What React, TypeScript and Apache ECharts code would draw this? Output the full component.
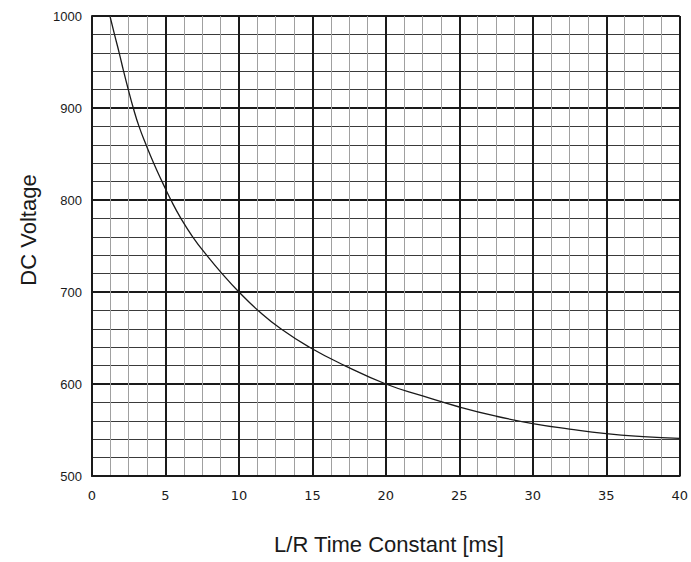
import React, { useEffect, useRef } from "react";
import * as echarts from "echarts";

const timeConstantMs = [1.22, 1.53, 1.85, 2.15, 2.47, 2.81, 3.2, 3.68, 4.2, 4.77, 5.37, 6.05, 6.85, 7.8, 8.85, 10.0, 11.3, 12.85, 14.8, 17.2, 20, 22.5, 25, 27.5, 30, 32.5, 35, 37.5, 40];
const dcVoltage = [1000, 980, 960, 940, 920, 900, 880, 860, 840, 820, 800, 780, 760, 740, 720, 700, 680, 660, 640, 620, 600, 587, 575, 565, 557, 551, 546, 542.8, 540.8];

const xTitle = "L/R Time Constant [ms]";
const yTitle = "DC Voltage";

export default function App() {
  const ref = useRef<HTMLDivElement>(null);
  useEffect(() => {
    document.body.style.margin = "0";
    const chart = echarts.init(ref.current!, null, { renderer: "svg" });
    const data = timeConstantMs.map((x, i) => [x, dcVoltage[i]]);
    chart.setOption({
      animation: false,
      backgroundColor: "#ffffff",
      grid: { left: 92, right: 11, top: 16, bottom: 86, containLabel: false },
      xAxis: [
        {
          type: "value",
          min: 0,
          max: 40,
          interval: 5,
          axisLine: { show: true, lineStyle: { color: "#1a1a1a", width: 2 } },
          axisTick: { show: false },
          axisLabel: { color: "#1a1a1a", fontFamily: "DejaVu Sans", fontSize: 13, margin: 13 },
          splitLine: { show: true, lineStyle: { color: "#1a1a1a", width: 2 } },
          minorTick: { show: false, splitNumber: 4 },
          minorSplitLine: { show: true, lineStyle: { color: "#a0a0a0", width: 1 } },
          z: 3,
        },
        {
          type: "value",
          min: 0,
          max: 40,
          interval: 2.5,
          position: "bottom",
          axisLine: { show: false },
          axisTick: { show: false },
          axisLabel: { show: false },
          splitLine: { show: true, lineStyle: { color: "#2e2e2e", width: 1 } },
          z: 2,
        },
      ],
      yAxis: {
        type: "value",
        min: 500,
        max: 1000,
        interval: 100,
        axisLine: { show: true, lineStyle: { color: "#1a1a1a", width: 2 } },
        axisTick: { show: false },
        axisLabel: {
          color: "#1a1a1a",
          fontFamily: "Liberation Sans",
          fontSize: 13,
          margin: 10,
          formatter: (v: number) => String(v),
        },
        splitLine: { show: true, lineStyle: { color: "#1a1a1a", width: 2 } },
        minorTick: { show: false, splitNumber: 5 },
        minorSplitLine: { show: true, lineStyle: { color: "#3a3a3a", width: 1 } },
      },
      graphic: [
        {
          type: "text",
          x: 389,
          y: 544,
          style: {
            text: xTitle,
            fontFamily: "Liberation Sans",
            fontSize: 22,
            fill: "#1a1a1a",
            textAlign: "center",
            textVerticalAlign: "middle",
          },
        },
        {
          type: "text",
          x: 28,
          y: 230,
          rotation: Math.PI / 2,
          style: {
            text: yTitle,
            fontFamily: "Liberation Sans",
            fontSize: 22,
            fill: "#1a1a1a",
            textAlign: "center",
            textVerticalAlign: "middle",
          },
        },
      ],
      series: [
        {
          type: "line",
          xAxisIndex: 0,
          data,
          smooth: 0.5,
          showSymbol: false,
          symbol: "none",
          lineStyle: { color: "#1a1a1a", width: 1.3 },
          z: 5,
        },
      ],
    });
    return () => chart.dispose();
  }, []);
  return <div ref={ref} style={{ width: 691, height: 562 }} />;
}
